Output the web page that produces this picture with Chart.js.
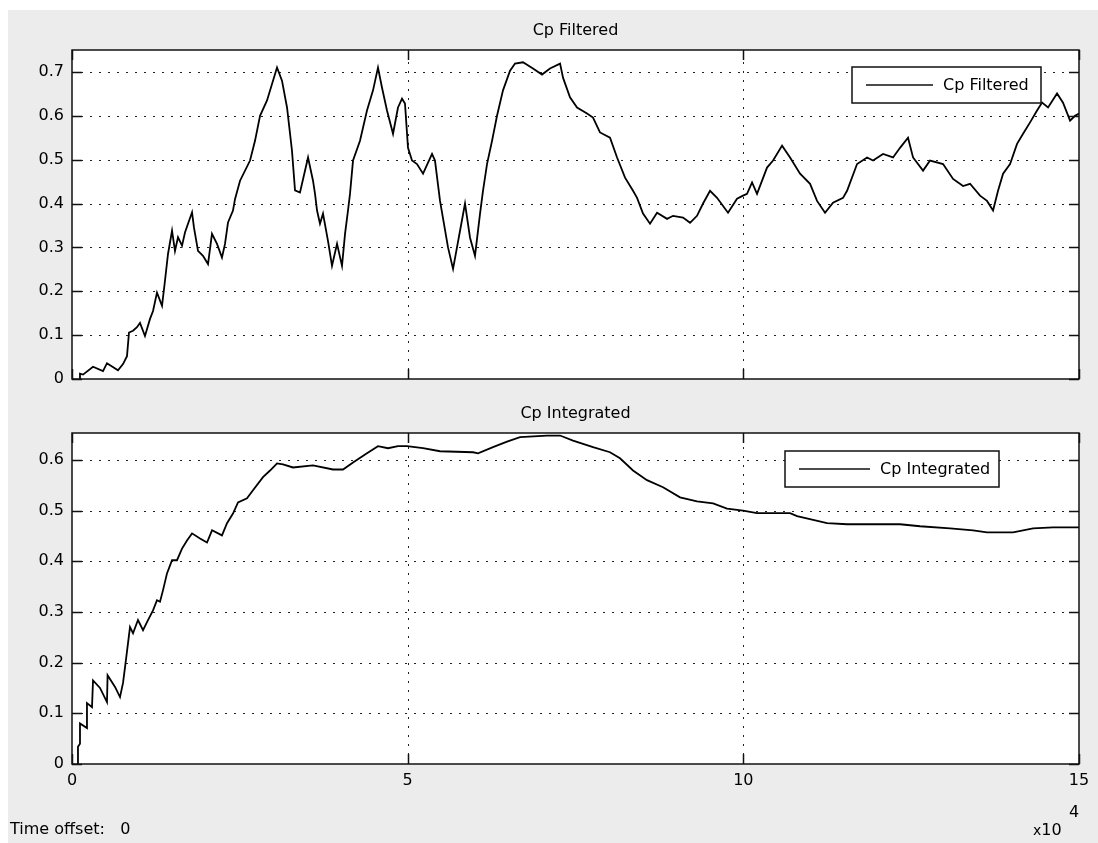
<!DOCTYPE html>
<html><head><meta charset="utf-8">
<script src="https://cdn.jsdelivr.net/npm/chart.js@4.4.1/dist/chart.umd.min.js"></script>
<style>
html,body{margin:0;padding:0;background:#fff;}
body{width:1098px;height:843px;position:relative;overflow:hidden;font-family:"DejaVu Sans",sans-serif;}
#fig{position:absolute;left:8px;top:10px;width:1090px;height:833px;background:#ececec;}
canvas{position:absolute;left:0;}
.txt{position:absolute;font-size:16px;line-height:18px;color:#000;white-space:pre;}
</style></head><body>
<div id="fig"></div>
<canvas id="c1" style="top:0px" width="1098" height="400"></canvas>
<canvas id="c2" style="top:400px" width="1098" height="443"></canvas>
<div class="txt" style="left:72px;width:1007px;text-align:center;top:21px;">Cp Filtered</div>
<div class="txt" style="left:72px;width:1007px;text-align:center;top:404px;">Cp Integrated</div>
<div class="txt" style="left:10px;top:820px;">Time offset:   0</div>
<div class="txt" style="left:1033px;top:821px;"><span style="font-size:14px">x</span>10</div>
<div class="txt" style="left:1069px;top:803px;">4</div>
<script>
// ---- data (time in units of 1e4) ----
const tFiltered = [0.119,0.119,0.164,0.313,0.462,0.521,0.685,0.760,0.819,0.849,0.909,0.968,1.013,1.087,1.162,1.207,1.266,1.341,1.385,1.430,1.490,1.534,1.579,1.639,1.683,1.728,1.788,1.817,1.877,1.951,2.026,2.085,2.160,2.234,2.279,2.324,2.398,2.428,2.503,2.652,2.726,2.801,2.905,3.054,3.128,3.203,3.277,3.322,3.396,3.516,3.590,3.620,3.650,3.694,3.739,3.813,3.873,3.948,4.022,4.067,4.111,4.141,4.186,4.290,4.394,4.484,4.558,4.618,4.692,4.782,4.856,4.916,4.960,5.005,5.065,5.139,5.229,5.363,5.407,5.482,5.601,5.676,5.780,5.854,5.929,6.003,6.078,6.122,6.182,6.257,6.331,6.420,6.525,6.599,6.718,6.867,7.001,7.120,7.270,7.314,7.418,7.523,7.672,7.761,7.865,8.014,8.119,8.238,8.357,8.417,8.506,8.610,8.715,8.864,8.953,9.102,9.206,9.310,9.400,9.504,9.608,9.772,9.906,9.996,10.055,10.130,10.204,10.353,10.443,10.577,10.696,10.845,10.994,11.098,11.217,11.336,11.485,11.545,11.694,11.843,11.932,12.081,12.230,12.334,12.453,12.528,12.677,12.781,12.975,13.124,13.273,13.377,13.526,13.630,13.720,13.794,13.869,13.973,14.077,14.167,14.271,14.375,14.450,14.539,14.673,14.762,14.867,14.941,15.0];
const cpFiltered = [0,0.012,0.01,0.028,0.018,0.036,0.02,0.034,0.052,0.106,0.11,0.118,0.128,0.098,0.137,0.155,0.197,0.167,0.224,0.285,0.338,0.292,0.323,0.304,0.334,0.354,0.38,0.345,0.292,0.281,0.262,0.331,0.308,0.277,0.308,0.357,0.384,0.41,0.452,0.498,0.543,0.600,0.635,0.71,0.68,0.619,0.52,0.43,0.425,0.505,0.452,0.422,0.384,0.354,0.377,0.315,0.258,0.308,0.258,0.331,0.384,0.422,0.498,0.543,0.612,0.658,0.71,0.664,0.612,0.559,0.619,0.639,0.628,0.527,0.498,0.49,0.468,0.513,0.498,0.406,0.3,0.251,0.338,0.4,0.322,0.281,0.377,0.429,0.49,0.543,0.6,0.658,0.703,0.719,0.722,0.708,0.694,0.708,0.719,0.687,0.642,0.619,0.605,0.596,0.562,0.55,0.505,0.459,0.429,0.413,0.377,0.354,0.379,0.365,0.372,0.368,0.356,0.372,0.4,0.429,0.413,0.379,0.411,0.418,0.422,0.448,0.422,0.482,0.498,0.532,0.505,0.468,0.445,0.406,0.379,0.402,0.413,0.429,0.49,0.505,0.498,0.513,0.505,0.527,0.55,0.505,0.475,0.498,0.49,0.456,0.44,0.445,0.418,0.406,0.384,0.429,0.468,0.49,0.536,0.559,0.585,0.612,0.63,0.619,0.651,0.63,0.589,0.6,0.605];
const tIntegrated = [0.089,0.089,0.119,0.119,0.223,0.223,0.298,0.313,0.417,0.521,0.530,0.641,0.715,0.760,0.790,0.834,0.864,0.909,0.983,1.058,1.132,1.207,1.266,1.311,1.356,1.415,1.490,1.564,1.639,1.713,1.788,1.907,2.011,2.086,2.234,2.309,2.398,2.473,2.607,2.696,2.845,2.950,3.054,3.143,3.292,3.590,3.888,4.037,4.186,4.394,4.558,4.707,4.856,4.990,5.229,5.482,5.974,6.048,6.271,6.480,6.674,7.076,7.270,7.463,7.761,8.014,8.163,8.357,8.565,8.804,9.057,9.310,9.549,9.757,9.996,10.204,10.696,10.800,11.247,11.545,11.932,12.334,12.632,13.079,13.422,13.630,14.018,14.316,14.614,15.0];
const cpIntegrated = [0,0.034,0.04,0.08,0.071,0.12,0.112,0.165,0.15,0.122,0.175,0.152,0.132,0.16,0.191,0.238,0.27,0.258,0.284,0.264,0.284,0.303,0.323,0.32,0.343,0.376,0.402,0.402,0.425,0.441,0.455,0.445,0.437,0.461,0.451,0.475,0.494,0.516,0.524,0.540,0.566,0.579,0.593,0.591,0.585,0.589,0.581,0.581,0.595,0.613,0.627,0.623,0.627,0.627,0.623,0.617,0.615,0.613,0.625,0.636,0.645,0.648,0.648,0.638,0.625,0.615,0.603,0.579,0.560,0.546,0.526,0.518,0.514,0.504,0.5,0.495,0.495,0.489,0.475,0.473,0.473,0.473,0.469,0.465,0.461,0.457,0.457,0.465,0.467,0.467];
const xTicks = [0, 5, 10, 15];
const xTickLabels = ['0', '5', '10', '15'];
const yTicksTop = [0, 0.1, 0.2, 0.3, 0.4, 0.5, 0.6, 0.7];
const yTickLabelsTop = ['0', '0.1', '0.2', '0.3', '0.4', '0.5', '0.6', '0.7'];
const yTicksBottom = [0, 0.1, 0.2, 0.3, 0.4, 0.5, 0.6];
const yTickLabelsBottom = ['0', '0.1', '0.2', '0.3', '0.4', '0.5', '0.6'];

const FONT = '"DejaVu Sans", sans-serif';

const matlabAxes = {
  id: 'matlabAxes',
  beforeDraw(chart) {
    const {ctx, chartArea: a} = chart;
    const xs = chart.scales.x, ys = chart.scales.y;
    ctx.save();
    ctx.fillStyle = '#fff';
    ctx.fillRect(a.left, a.top, a.right - a.left, a.bottom - a.top);
    ctx.strokeStyle = '#222';
    ctx.lineWidth = 1;
    ctx.setLineDash([2, 7]);
    xs.ticks.forEach(t => {
      const px = Math.round(xs.getPixelForValue(t.value)) + 0.5;
      if (px <= a.left + 2 || px >= a.right - 2) return;
      ctx.beginPath(); ctx.moveTo(px, a.bottom); ctx.lineTo(px, a.top); ctx.stroke();
    });
    ys.ticks.forEach(t => {
      const py = Math.round(ys.getPixelForValue(t.value)) + 0.5;
      if (py <= a.top + 2 || py >= a.bottom - 2) return;
      ctx.beginPath(); ctx.moveTo(a.left, py); ctx.lineTo(a.right, py); ctx.stroke();
    });
    ctx.restore();
  },
  afterDatasetsDraw(chart) {
    const {ctx, chartArea: a} = chart;
    const xs = chart.scales.x, ys = chart.scales.y;
    const L = 10;
    ctx.save();
    ctx.strokeStyle = '#111';
    ctx.lineWidth = 1.5;
    ctx.setLineDash([]);
    ctx.strokeRect(a.left, a.top, a.right - a.left, a.bottom - a.top);
    ctx.beginPath();
    xs.ticks.forEach(t => {
      const px = Math.round(xs.getPixelForValue(t.value)) + 0.5;
      ctx.moveTo(px, a.bottom); ctx.lineTo(px, a.bottom - L);
      ctx.moveTo(px, a.top); ctx.lineTo(px, a.top + L);
    });
    ys.ticks.forEach(t => {
      const py = Math.round(ys.getPixelForValue(t.value)) + 0.5;
      ctx.moveTo(a.left, py); ctx.lineTo(a.left + L, py);
      ctx.moveTo(a.right, py); ctx.lineTo(a.right - L, py);
    });
    ctx.stroke();
    ctx.restore();
  },
  afterDraw(chart) {
    const o = chart.options.plugins.matlabAxes;
    if (!o) return;
    const {ctx, chartArea: a} = chart;
    const left = a.right - o.rightGap - o.w;
    const top = a.top + o.topGap;
    const cy = top + o.h / 2;
    ctx.save();
    ctx.fillStyle = '#fff';
    ctx.fillRect(left, top, o.w, o.h);
    ctx.strokeStyle = '#111';
    ctx.lineWidth = 1.5;
    ctx.strokeRect(left, top, o.w, o.h);
    ctx.beginPath();
    ctx.lineWidth = 1.5;
    ctx.moveTo(left + 14, cy); ctx.lineTo(left + 14 + o.lineLen, cy);
    ctx.stroke();
    ctx.fillStyle = '#000';
    ctx.font = '16px ' + FONT;
    ctx.textBaseline = 'middle';
    ctx.textAlign = 'left';
    ctx.fillText(chart.data.datasets[0].label, left + 14 + o.lineLen + 10, cy + 1);
    ctx.restore();
  }
};

function makeChart(id, label, ts, vs, yTicks, yLabels, yMax, showX, pad, xH, legend) {
  return new Chart(document.getElementById(id), {
    type: 'scatter',
    data: {
      datasets: [{
        label: label,
        data: ts.map((t, i) => ({x: t, y: vs[i]})),
        showLine: true,
        borderColor: '#000',
        borderWidth: 1.8,
        pointRadius: 0,
        tension: 0
      }]
    },
    options: {
      responsive: false,
      animation: false,
      devicePixelRatio: 1,
      layout: {padding: pad},
      plugins: {legend: {display: false}, title: {display: false}, tooltip: {enabled: false}, matlabAxes: legend},
      scales: {
        x: {
          type: 'linear', min: 0, max: 15,
          afterBuildTicks: s => { s.ticks = xTicks.map(v => ({value: v})); },
          afterFit: s => { s.height = xH; },
          grid: {display: false, drawTicks: false},
          border: {display: false},
          ticks: {display: showX, autoSkip: false, maxRotation: 0, padding: 7, color: '#000',
                  font: {family: FONT, size: 16},
                  callback: (v, i) => xTickLabels[i]}
        },
        y: {
          type: 'linear', min: 0, max: yMax,
          afterBuildTicks: s => { s.ticks = yTicks.map(v => ({value: v})); },
          afterFit: s => { s.width = 72; },
          grid: {display: false, drawTicks: false},
          border: {display: false},
          ticks: {autoSkip: false, padding: 8, color: '#000',
                  font: {family: FONT, size: 16},
                  callback: (v, i) => yLabels[i]}
        }
      }
    },
    plugins: [matlabAxes]
  });
}

makeChart('c1', 'Cp Filtered', tFiltered, cpFiltered, yTicksTop, yTickLabelsTop, 0.75, false,
  {left: 0, top: 50, right: 19, bottom: 21}, 0,
  {rightGap: 38, topGap: 17, w: 189, h: 36, lineLen: 67});
makeChart('c2', 'Cp Integrated', tIntegrated, cpIntegrated, yTicksBottom, yTickLabelsBottom, 0.653, true,
  {left: 0, top: 33, right: 19, bottom: 49}, 30,
  {rightGap: 80, topGap: 18, w: 214, h: 36, lineLen: 71});
</script>
</body></html>
